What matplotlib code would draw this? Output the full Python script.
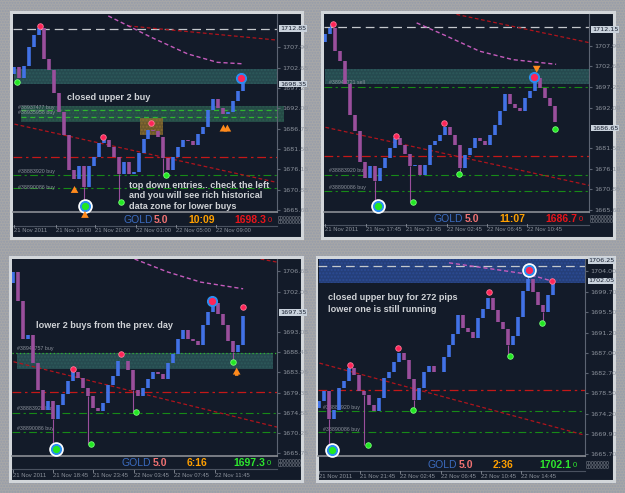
import matplotlib
matplotlib.use('Agg')
import matplotlib.pyplot as plt
from matplotlib.patches import Rectangle
from matplotlib.transforms import blended_transform_factory

W, H = 625, 493

# ---------------- panel 1 (top left) ----------------
tl_open0 = 1701.0
tl_close = [1702.7, 1700.0, 1703.0, 1708.0, 1711.0, 1713.0, 1705.0, 1702.0, 1696.0, 1691.0,
            1685.0, 1676.0, 1673.5, 1677.0, 1671.6, 1677.0, 1679.4, 1682.9, 1683.7, 1682.0,
            1679.4, 1675.0, 1678.0, 1675.0, 1675.5, 1680.3, 1684.0, 1686.5, 1686.0, 1684.6,
            1679.0, 1676.0, 1679.4, 1682.0, 1683.7, 1683.5, 1682.5, 1685.4, 1687.2, 1691.5,
            1694.5, 1692.0, 1690.6, 1691.0, 1694.0, 1696.5, 1699.3]
tl_wicks = [(14, 1668.0), (21, 1667.6), (5, 1714.0), (30, 1674.6)]
tl_red = [(5.1, 1713.5), (17.8, 1684.6), (27.5, 1688.1)]
tl_green = [(0.5, 1698.9), (21.4, 1667.6), (30.5, 1674.6)]
tl_rings = [(45.7, 1699.8, 'blue', 'red'), (14.2, 1666.5, 'white', 'green')]
tl_arrows = [(12.1, 1669.5, 1672.5), (14.2, 1663.2, 1666.0), (42.1, 1685.4, 1688.5), (42.9, 1685.4, 1688.5)]
tl_zones = [(0, 52.9, 1698.4, 1702.3, 'teal'), (1.3, 54.3, 1688.5, 1692.5, 'green'),
            (25.3, 29.9, 1685.0, 1689.6, 'orange')]
tl_levels = [(1712.6, 'white'), (1691.5, 'lime'), (1689.8, 'lime'), (1679.4, 'red'),
             (1674.6, 'green'), (1671.2, 'green')]
tl_orders = [(1692.2, '#38937477 buy'), (1690.9, '#38935958 buy'), (1675.5, '#38883920 buy'),
             (1671.4, '#38890086 buy')]
tl_trend = [(0, 1687.9, 52.9, 1672.7), (22.9, 1713.5, 52.9, 1709.8)]
tl_ma_x = [18.9, 27.6, 34.9, 40.9, 46.3]
tl_ma_y = [1716.1, 1710.5, 1706.2, 1704.0, 1703.6]
tl_ticks = [1707.90, 1702.65, 1697.25, 1692.00, 1686.75, 1681.50, 1676.15, 1670.85, 1665.60]
tl_boxed = [1712.85, 1698.35]
tl_time_x = [0, 8.27, 16.27, 24.4, 32.5, 40.6]
tl_time_lbl = ['21 Nov 2011', '21 Nov 16:00', '21 Nov 20:00', '22 Nov 01:00', '22 Nov 05:00', '22 Nov 09:00']
tl_header = 'GOLD,M15  1699.05 1699.35 1697.45 1698.35'
tl_clock, tl_price, tl_pcol = '10:09', '1698.3', 'red'

# ---------------- panel 2 (top right) ----------------
tr_open0 = 1709.0
tr_close = [1710.9, 1712.6, 1706.6, 1704.0, 1698.0, 1690.0, 1686.0, 1678.0, 1673.8, 1676.8,
            1672.9, 1676.4, 1679.0, 1681.6, 1684.2, 1682.4, 1680.0, 1677.0, 1677.2, 1674.6,
            1677.2, 1682.4, 1683.3, 1685.0, 1687.0, 1685.0, 1682.4, 1676.4, 1679.8, 1681.6,
            1684.2, 1683.3, 1682.4, 1685.0, 1687.6, 1691.1, 1695.4, 1692.8, 1691.9, 1691.1,
            1694.5, 1696.2, 1699.7, 1697.1, 1694.5, 1692.4, 1688.2]
tr_wicks = [(10, 1667.3), (17, 1667.6), (1, 1713.6), (27, 1674.8)]
tr_red = [(1.5, 1713.5), (14.1, 1684.6), (23.8, 1688.0)]
tr_green = [(17.6, 1667.6), (26.8, 1674.8), (46.1, 1686.5)]
tr_rings = [(10.5, 1666.6, 'white', 'green'), (41.9, 1699.9, 'blue', 'red')]
tr_arrows = [(42.4, 1703.4, 1700.3)]
tr_zones = [(0, 52.9, 1698.1, 1702.0, 'teal')]
tr_levels = [(1712.8, 'white'), (1697.3, 'green'), (1679.4, 'red'), (1674.6, 'green'), (1670.5, 'green')]
tr_orders = [(1698.4, '#38940721 sell'), (1675.7, '#38883920 buy'), (1671.3, '#38890086 buy')]
tr_trend = [(0, 1686.9, 52.9, 1671.9), (26.3, 1716.1, 52.9, 1708.8)]
tr_ma_x = [18.3, 24.3, 30.9, 37.6, 46.3]
tr_ma_y = [1713.9, 1710.5, 1706.6, 1704.4, 1703.2]
tr_ticks = [1707.90, 1702.65, 1697.25, 1692.00, 1681.50, 1676.10, 1670.85, 1665.60]
tr_boxed = [1712.15, 1686.65]
tr_time_x = [0, 8.07, 16.1, 24.3, 32.4, 40.5]
tr_time_lbl = ['21 Nov 2011', '21 Nov 17:45', '21 Nov 21:45', '22 Nov 02:45', '22 Nov 06:45', '22 Nov 10:45']
tr_header = 'GOLD,M15  1687.85 1688.75 1686.35 1686.65'
tr_clock, tr_price, tr_pcol = '11:07', '1686.7', 'red'

# ---------------- panel 3 (bottom left) ----------------
bl_open0 = 1704.0
bl_close = [1706.5, 1700.0, 1691.5, 1692.3, 1686.0, 1680.0, 1675.5, 1677.4, 1673.5, 1676.6,
            1679.0, 1681.9, 1684.0, 1682.6, 1680.4, 1678.6, 1676.0, 1675.2, 1677.0, 1681.0,
            1683.0, 1686.5, 1686.5, 1684.5, 1680.0, 1678.5, 1680.5, 1682.5, 1684.0, 1683.5,
            1682.5, 1686.0, 1688.0, 1691.5, 1693.5, 1691.5, 1691.0, 1690.0, 1694.5, 1697.5,
            1699.5, 1697.0, 1694.5, 1691.0, 1688.5, 1690.0, 1696.5]
bl_wicks = [(8, 1667.0), (15, 1667.7), (24, 1674.9), (44, 1686.3), (40, 1700.0)]
bl_red = [(11.9, 1684.7), (21.6, 1688.0), (46.1, 1698.5)]
bl_green = [(15.5, 1667.7), (24.6, 1674.9), (44.0, 1686.3)]
bl_rings = [(8.5, 1666.6, 'white', 'green'), (39.8, 1700.0, 'blue', 'red')]
bl_arrows = [(44.8, 1682.5, 1685.6)]
bl_zones = [(0.8, 52.0, 1684.7, 1688.2, 'teal')]
bl_levels = [(1688.3, 'dots'), (1679.4, 'red'), (1674.7, 'green'), (1670.5, 'green')]
bl_orders = [(1689.2, '#38942757 buy'), (1675.7, '#38883920 buy'), (1671.3, '#38890086 buy')]
bl_trend = [(0, 1686.3, 52.9, 1671.6), (49.6, 1709.4, 52.9, 1708.7)]
bl_ma_x = [24.3, 30.9, 37.6, 46.1]
bl_ma_y = [1709.4, 1706.5, 1704.2, 1702.7]
bl_ticks = [1706.65, 1702.05, 1693.05, 1688.45, 1683.95, 1679.35, 1674.85, 1670.25, 1665.75]
bl_boxed = [1697.35]
bl_time_x = [0, 7.93, 15.9, 24.1, 32.3, 40.5]
bl_time_lbl = ['21 Nov 2011', '21 Nov 18:45', '21 Nov 23:45', '22 Nov 03:45', '22 Nov 07:45', '22 Nov 11:45']
bl_header = 'GOLD,M15  1693.35 1696.45 1692.35 1697.35'
bl_clock, bl_price, bl_pcol = '6:16', '1697.3', 'green'

# ---------------- panel 4 (bottom right) ----------------
br_open0 = 1675.5
br_close = [1676.8, 1678.9, 1673.0, 1675.0, 1679.6, 1681.0, 1683.7, 1682.3, 1679.0, 1678.2,
            1676.0, 1674.7, 1677.5, 1681.7, 1683.0, 1685.0, 1687.0, 1685.5, 1681.5, 1677.0,
            1679.6, 1683.0, 1684.1, 1683.0, 1683.0, 1686.0, 1688.5, 1691.0, 1694.8, 1692.1,
            1691.4, 1690.0, 1694.2, 1696.2, 1698.5, 1696.0, 1693.5, 1692.0, 1688.5, 1690.5,
            1694.5, 1700.0, 1702.5, 1699.7, 1697.0, 1695.5, 1699.0, 1701.8]
br_wicks = [(2, 1667.0), (9, 1667.6), (19, 1674.9), (38, 1686.2), (45, 1693.2), (42, 1704.4)]
br_red = [(6.1, 1684.4), (15.8, 1688.0), (34.1, 1699.7), (46.9, 1702.0)]
br_green = [(9.7, 1667.6), (18.9, 1674.9), (38.3, 1686.2), (44.8, 1693.2)]
br_rings = [(2.6, 1666.6, 'white', 'green'), (42.3, 1704.4, 'white', 'red')]
br_arrows = []
br_zones = [(0, 53.5, 1701.6, 1706.7, 'blue')]
br_levels = [(1705.1, 'white'), (1679.1, 'red'), (1674.7, 'green'), (1670.4, 'green')]
br_orders = [(1675.5, '#38883920 buy'), (1671.0, '#38890086 buy')]
br_trend = [(0, 1684.8, 53.5, 1669.7)]
br_ma_x = [26.1, 35.5, 42.1, 46.8]
br_ma_y = [1705.8, 1704.4, 1703.4, 1702.0]
br_ticks = [1704.00, 1699.70, 1695.50, 1691.20, 1687.00, 1682.70, 1678.50, 1674.20, 1669.90, 1665.70]
br_boxed = [1706.25, 1702.05]
br_time_x = [0, 8.13, 16.3, 24.5, 32.6, 40.7]
br_time_lbl = ['21 Nov 2011', '21 Nov 21:45', '22 Nov 02:45', '22 Nov 06:45', '22 Nov 10:45', '22 Nov 14:45']
br_header = 'GOLD,M15  1700.55 1702.25 1700.25 1702.05'
br_clock, br_price, br_pcol = '2:36', '1702.1', 'green'

# annotations (text, x px, y px)
notes = [
    ('closed upper 2 buy', 67, 97),
    ('top down entries.. check the left', 129, 185),
    ('and you will see rich historical', 129, 196),
    ('data zone for lower buys', 129, 207),
    ('lower 2 buys from the prev. day', 36, 326),
    ('closed upper buy for 272 pips', 328, 298),
    ('lower one is still running', 328, 309),
]

DARK = '#131b29'
GREY = '#8c929c'
ZONE_COL = {'teal': '#2d5a5c', 'green': '#2c5c50', 'orange': '#8a6d2e', 'blue': '#2c4c96'}
PRICE_COL = {'red': '#e8141a', 'green': '#2ee82e'}


def px_box(x0, y0, x1, y1):
    return [x0 / W, 1 - y1 / H, (x1 - x0) / W, (y1 - y0) / H]


def draw_panel(fig, frame, plot, info_y, time_y, xlim, ylim, d):
    fx0, fy0, fx1, fy1 = frame
    px0, py0, px1, py1 = plot

    # dark panel with light frame, drawn in pixel coordinates
    bg = fig.add_axes(px_box(fx0, fy0, fx1, fy1))
    bg.set_facecolor(DARK)
    bg.set_xlim(fx0, fx1)
    bg.set_ylim(fy1, fy0)
    bg.set_xticks([])
    bg.set_yticks([])
    for s in bg.spines.values():
        s.set_color('#d2d6da')
        s.set_linewidth(2.2)

    ax = fig.add_axes(px_box(px0, py0, px1, py1))
    ax.set_facecolor(DARK)
    ax.set_xlim(*xlim)
    ax.set_ylim(*ylim)
    for k in ['left', 'top']:
        ax.spines[k].set_visible(False)
    ax.spines['right'].set_color('#5c6472')
    ax.spines['bottom'].set_color('#8a8e94')
    ax.spines['bottom'].set_linewidth(1.2)
    ax.set_xticks([])
    ax.yaxis.tick_right()
    ax.set_yticks(d['ticks'])
    ax.set_yticklabels(['%.2f' % t for t in d['ticks']])
    ax.tick_params(axis='y', colors='#5c6472', labelcolor=GREY, labelsize=4.6, length=2, pad=1.5)

    # zones
    for x0, x1, lo, hi, kind in d['zones']:
        ax.add_patch(Rectangle((x0, lo), x1 - x0, hi - lo, facecolor=ZONE_COL[kind],
                               alpha=0.75, edgecolor='none', zorder=1, clip_on=False))
        ax.add_patch(Rectangle((x0, lo), x1 - x0, hi - lo, facecolor='none', hatch='.....',
                               edgecolor=ZONE_COL[kind], linewidth=0, alpha=0.9, zorder=1, clip_on=False))

    # horizontal levels
    for p, kind in d['levels']:
        if kind == 'white':
            ax.axhline(p, color='#c4c8cc', ls=(0, (7, 4)), lw=0.9, zorder=2)
        elif kind == 'red':
            ax.axhline(p, color='#c41818', ls=(0, (7, 3, 2, 3)), lw=0.9, zorder=2)
        elif kind == 'green':
            ax.axhline(p, color='#178a17', ls=(0, (7, 3, 2, 3)), lw=0.8, zorder=2)
        elif kind == 'lime':
            ax.axhline(p, xmin=0.03, color='#2fb52f', ls=(0, (4, 3)), lw=0.9, zorder=2)
        else:
            ax.axhline(p, color='#2fb52f', ls=(0, (1, 2)), lw=0.9, zorder=2)

    for p, lbl in d['orders']:
        ax.text(0.8, p, lbl, fontsize=3.8, color=GREY, va='center', zorder=3,
                family='Liberation Sans')

    for x0, y0, x1, y1 in d['trend']:
        ax.plot([x0, x1], [y0, y1], color='#b0141c', ls=(0, (3, 2)), lw=0.9, zorder=2)
    ax.plot(d['ma_x'], d['ma_y'], color='#c55cbc', ls=(0, (3, 2)), lw=1.0, zorder=2)

    # candles
    closes = d['close']
    opens = [d['open0']] + closes[:-1]
    for i, (o, c) in enumerate(zip(opens, closes)):
        col = '#4272e6' if c >= o else '#9a4f9c'
        ax.vlines(i, min(o, c), max(o, c), colors=col, lw=2.6, zorder=4)
    for i, p in d['wicks']:
        o, c = opens[i], closes[i]
        ref = min(o, c) if p < min(o, c) else max(o, c)
        col = '#4272e6' if c >= o else '#9a4f9c'
        ax.vlines(i, p, ref, colors=col, lw=0.8, zorder=4)

    # signal markers
    for x, y in d['red']:
        ax.plot(x, y, 'o', ms=4.0, mfc='#ff2458', mec='#ff7a98', mew=0.6, zorder=6)
    for x, y in d['green']:
        ax.plot(x, y, 'o', ms=4.0, mfc='#22e822', mec='#78ff78', mew=0.6, zorder=6, clip_on=False)
    for x, y, outer, center in d['rings']:
        if outer == 'white':
            ax.plot(x, y, 'o', ms=9.5, mfc='white', mec='white', zorder=6, clip_on=False)
        ax.plot(x, y, 'o', ms=7, mfc='#2a8ef0', mec='#2a8ef0', zorder=6, clip_on=False)
        cc = '#22e822' if center == 'green' else '#ff2458'
        ax.plot(x, y, 'o', ms=4.2, mfc=cc, mec=cc, zorder=7, clip_on=False)
    for x, tail, tip in d['arrows']:
        ax.annotate('', xy=(x, tip), xytext=(x, tail), annotation_clip=False, zorder=8,
                    arrowprops=dict(arrowstyle='simple,head_width=0.55,head_length=0.5,tail_width=0.25',
                                    color='#ff8a1c', lw=0))

    for v in d['boxed']:
        ax.text(1.012, v, '%.2f' % v, transform=blended_transform_factory(ax.transAxes, ax.transData),
                fontsize=4.6, color='#182030', va='center', ha='left', clip_on=False, zorder=9,
                bbox=dict(facecolor='#c9d2dc', edgecolor='none', pad=0.5))

    # header
    bg.text(px0 + 3, py0 + 6, d['header'], fontsize=4.2, color=GREY, va='center',
            family='Liberation Sans')
    bg.plot(px0 + (px1 - px0) * 0.9, py0 + 1.5, 'v', ms=3, color='#5f7fb0')

    # info strip
    bg.plot([px0, px1], [info_y + 6, info_y + 6], color='#4a5260', lw=0.8)
    bg.text(px0 + 110, info_y, 'GOLD', fontsize=7.5, color='#3c6cc0', va='center', family='Liberation Sans')
    bg.text(px0 + 141, info_y, '5.0', fontsize=7.5, color='#f07272', va='center', weight='bold',
            family='Liberation Sans')
    bg.text(px0 + 175, info_y, d['clock'], fontsize=7.5, color='#ffa000', va='center', weight='bold',
            family='Liberation Sans')
    pc = PRICE_COL[d['pcol']]
    bg.text(px0 + 221, info_y, d['price'], fontsize=7.5, color=pc, va='center', weight='bold',
            family='Liberation Sans')
    bg.text(px0 + 255, info_y + 0.5, '0', fontsize=5.5, color=pc, va='center', family='Liberation Sans')
    bg.text(px1 + 1, info_y - 2, '00000000', fontsize=3.4, color=GREY, va='center')
    bg.text(px1 + 1, info_y + 2, '00000000', fontsize=3.4, color=GREY, va='center')

    # time axis
    x_to_px = (px1 - px0) / (xlim[1] - xlim[0])
    for x, lbl in zip(d['time_x'], d['time_lbl']):
        xp = px0 + (x - xlim[0]) * x_to_px
        bg.text(xp, time_y, lbl, fontsize=4.2, color=GREY, va='center', family='Liberation Sans')
        bg.plot([xp, xp], [time_y - 5, time_y - 3], color=GREY, lw=0.6)


def panel_data(prefix):
    g = globals()
    keys = ['open0', 'close', 'wicks', 'red', 'green', 'rings', 'arrows', 'zones', 'levels', 'orders',
            'trend', 'ma_x', 'ma_y', 'ticks', 'boxed', 'time_x', 'time_lbl', 'header', 'clock',
            'price', 'pcol']
    return {k: g[prefix + '_' + k] for k in keys}


fig = plt.figure(figsize=(W / 100, H / 100), dpi=100)
fig.patch.set_facecolor('#a7a7a7')
fig.patches.append(Rectangle((0, 0), 1, 1, transform=fig.transFigure, facecolor='none',
                             hatch='......', edgecolor='#959cab', linewidth=0, zorder=-1))

draw_panel(fig, (11, 12, 302, 238), (13, 14, 277, 212), 220, 230, (-0.3, 52.9), (1665.0, 1716.6),
           panel_data('tl'))
draw_panel(fig, (322, 12, 614, 238), (324, 14, 589, 212), 219, 229, (-0.3, 52.9), (1665.0, 1716.2),
           panel_data('tr'))
draw_panel(fig, (10, 257, 302, 481), (12, 259, 277, 456), 463, 475, (-0.3, 52.9), (1665.1, 1709.4),
           panel_data('bl'))
draw_panel(fig, (317, 257, 614, 481), (318, 259, 585, 456), 465, 476, (-0.3, 53.5), (1665.35, 1706.6),
           panel_data('br'))

for txt, x, y in notes:
    fig.text(x / W, 1 - y / H, txt, fontsize=6.6, color='#cfd2d6', weight='bold', va='center',
             family='Liberation Sans', zorder=10)

fig.savefig('out.png', dpi=100, facecolor=fig.get_facecolor())
